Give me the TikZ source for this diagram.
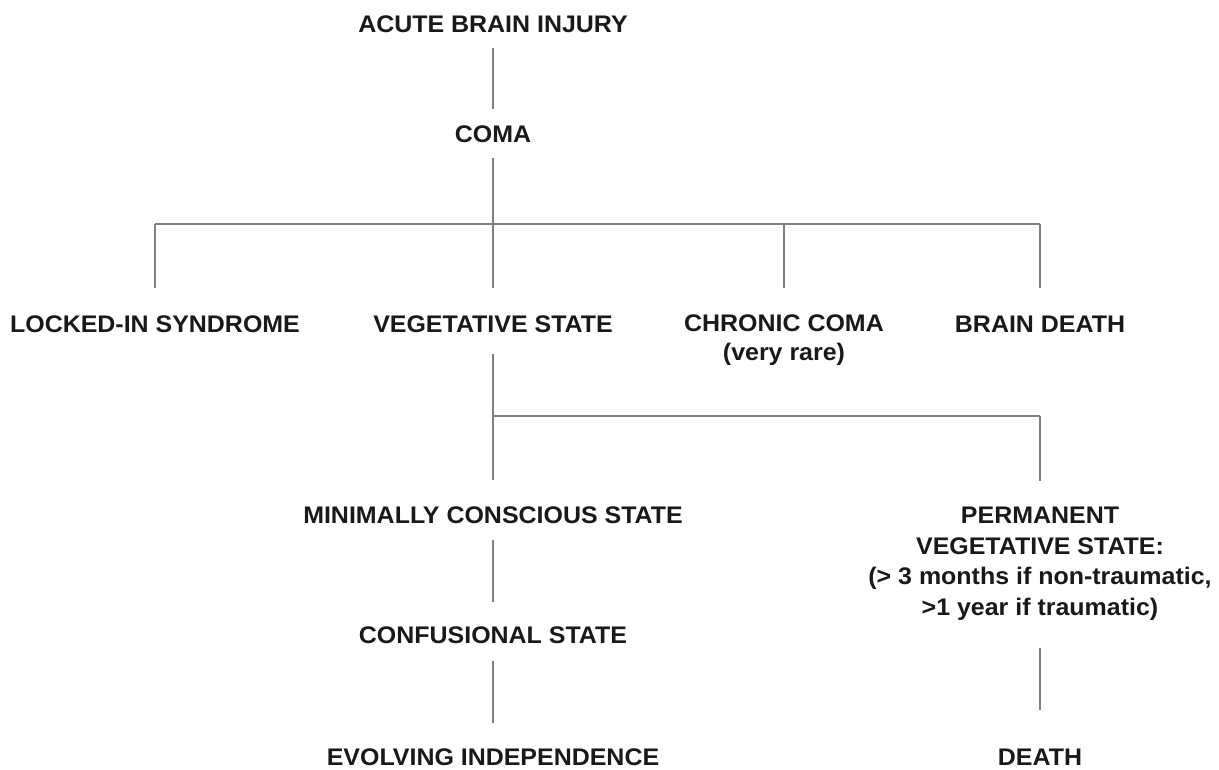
\documentclass[tikz,border=0pt]{standalone}
\usepackage{fontspec}
\setmainfont{Liberation Sans}[FakeStretch=1.04]
\usepackage{tikz}
\usetikzlibrary{calc}

\tikzset{
	lbl/.style={font=\bfseries\fontsize{24}{30}\selectfont, inner sep=0pt, anchor=base, text=black!90},
	blk/.style={font=\bfseries\fontsize{24}{29}\selectfont, inner sep=0pt, anchor=north, align=center, text=black!90},
	link/.style={draw=black!50, line width=1.3pt}
}

\begin{document}
\begin{tikzpicture}[x=1pt, y=-1pt]
				\useasboundingbox (0, 0) rectangle (1219, 769);
				
				% states
				\node[lbl] (acute) at (493, 32) {ACUTE BRAIN INJURY};
				\node[lbl] (coma) at (493, 142) {COMA};
				\node[lbl] (locked) at (155, 332) {LOCKED-IN SYNDROME};
				\node[lbl] (veg) at (493, 332) {VEGETATIVE STATE};
				\node[blk] (chronic) at (784, 315) {CHRONIC COMA\\(very rare)};
				\node[lbl] (bdeath) at (1040, 332) {BRAIN DEATH};
				\node[lbl] (mcs) at (493, 523) {MINIMALLY CONSCIOUS STATE};
				\node[blk, font=\bfseries\fontsize{24}{30.5}\selectfont] (perm) at (1040, 507) {PERMANENT\\VEGETATIVE STATE:\\(> 3 months if non-traumatic,\\>1 year if traumatic)};
				\node[lbl] (conf) at (493, 643) {CONFUSIONAL STATE};
				\node[lbl] (evol) at (493, 765) {EVOLVING INDEPENDENCE};
				\node[lbl] (death) at (1040, 765) {DEATH};
				
				% branch points
				\coordinate (top) at (493, 224);
				\coordinate (mid) at (493, 416);
				
				\draw[link, shorten <=16pt, shorten >=16pt] (acute) -- (coma);
				\draw[link, shorten <=16pt] (coma) -- (top);
				\draw[link] (locked |- top) -- (bdeath |- top);
				
				% drops to second row
				\foreach \n in {locked, veg, chronic, bdeath}
				\draw[link, shorten >=27pt] (\n.north |- top) -- (\n.north);
				
				\draw[link, shorten <=22pt, shorten >=26pt] (veg) -- (mcs);
				\draw[link] (mid) -- (perm.north |- mid);
				\draw[link, shorten >=26pt] (perm.north |- mid) -- (perm.north);
				
				\draw[link, shorten <=17pt, shorten >=24pt] (mcs) -- (conf);
				\draw[link, shorten <=18pt, shorten >=25pt] (conf) -- (evol);
				\draw[link, shorten <=28pt, shorten >=38pt] (perm) -- (death);
			\end{tikzpicture}
\end{document}
